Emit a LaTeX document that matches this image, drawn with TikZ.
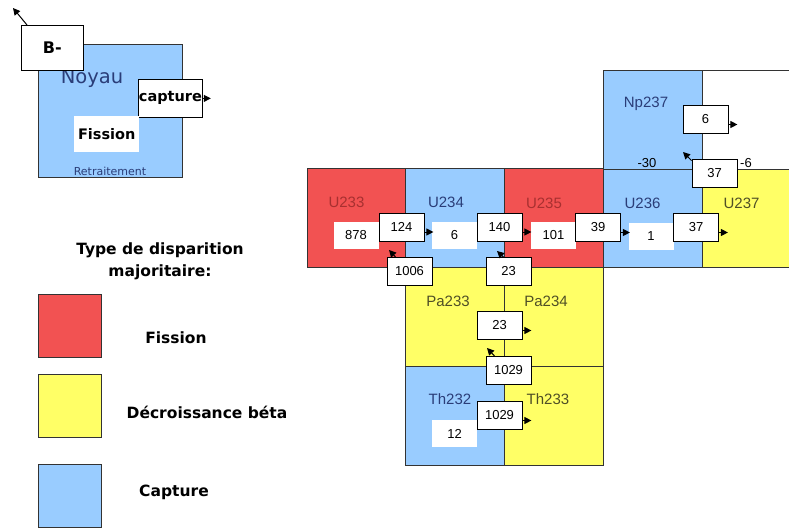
\documentclass[tikz,border=0pt]{standalone}
\usepackage{fontspec}
\setmainfont{Liberation Sans}
\newfontfamily\legfont{DejaVu Sans}
\usetikzlibrary{arrows.meta}
\definecolor{cred}{HTML}{F25252}
\definecolor{cyel}{HTML}{FFFF66}
\definecolor{cblue}{HTML}{99CCFF}
\definecolor{tred}{HTML}{A83030}
\definecolor{tblue}{HTML}{2A3D78}
\definecolor{tolive}{HTML}{4F4F26}
\definecolor{gline}{HTML}{333333}
\begin{document}
\begin{tikzpicture}[x=1pt,y=-1pt,
  cell/.style={draw=gline,line width=1.2pt,minimum width=99pt,minimum height=99pt,inner sep=0pt,anchor=north west},
  lab/.style={font=\fontsize{15}{15}\selectfont},
  val/.style={fill=white,minimum width=45pt,minimum height=27pt,inner sep=0pt,font=\fontsize{13}{13}\selectfont},
  bval/.style={val,draw=black,line width=0.8pt,minimum height=28pt},
  arr/.style={line width=1pt,-{Triangle[length=7pt,width=7pt]}},
  leg/.style={draw=gline,line width=1pt,minimum width=63pt,minimum height=63pt,inner sep=0pt,anchor=north west},
  legtxt/.style={font=\legfont\bfseries\fontsize{15.5}{22}\selectfont},
  keytxt/.style={font=\legfont\bfseries\fontsize{14.5}{14.5}\selectfont}]
\useasboundingbox (0,0) rectangle (789,527);
% ---- grid cells
\node[cell,fill=cred]  (u233) at (307,168) {};
\node[cell,fill=cblue] (u234) at (405,168) {};
\node[cell,fill=cred]  (u235) at (504,168) {};
\node[cell,fill=cblue] (u236) at (603,168) {};
\node[cell,fill=cyel]  (u237) at (702,168) {};
\node[cell,fill=cblue] (np237) at (603,70) {};
\node[cell,fill=white] (blank) at (702,70) {};
\node[cell,fill=cyel]  (pa233) at (405,267) {};
\node[cell,fill=cyel]  (pa234) at (504,267) {};
\node[cell,fill=cblue] (th232) at (405,366) {};
\node[cell,fill=cyel]  (th233) at (504,366) {};
% ---- cell labels
\node[lab,text=tred]   (lu233) at (346.5,202) {U233};
\node[lab,text=tblue]  (lu234) at (446,202) {U234};
\node[lab,text=tred]   (lu235) at (544,203) {U235};
\node[lab,text=tblue]  (lu236) at (642.5,203) {U236};
\node[lab,text=tolive] (lu237) at (741.5,203) {U237};
\node[lab,text=tblue]  (lnp)   at (646,104) {Np237};
\node[lab,text=tolive] (lpa3)  at (448,301) {Pa233};
\node[lab,text=tolive] (lpa4)  at (546,301) {Pa234};
\node[lab,text=tblue]  (lth2)  at (450,399) {Th232};
\node[lab,text=tolive] (lth3)  at (548,399) {Th233};
% ---- plain values
\node[val] (v878) at (356,235.5) {878};
\node[val] (v6)   at (454.5,235.5) {6};
\node[val] (v101) at (553.5,235.5) {101};
\node[val] (v1)   at (651,236.5) {1};
\node[val] (v12)  at (454.5,433.5) {12};
% ---- bordered values
\node[bval] (b124)  at (401.5,227) {124};
\node[bval] (b140)  at (499.5,227) {140};
\node[bval] (b39)   at (598,227.5) {39};
\node[bval] (b37a)  at (696,227.5) {37};
\node[bval] (b37b)  at (714.5,173) {37};
\node[bval] (b6)    at (705.5,119.5) {6};
\node[bval] (b1006) at (409.5,271.5) {1006};
\node[bval] (b23a)  at (508.5,271.5) {23};
\node[bval] (b23b)  at (499.5,325.5) {23};
\node[bval] (b1029a) at (508.5,370.5) {1029};
\node[bval] (b1029b) at (499.5,415.5) {1029};
\node[font=\fontsize{13}{13}\selectfont] (m30) at (647,163) {-30};
\node[font=\fontsize{13}{13}\selectfont] (m6)  at (746,163) {-6};
% ---- arrows to the right
\foreach \b in {b124,b140,b39,b37a,b6,b23b,b1029b}{
  \draw[arr] ([yshift=-5pt]\b.east) -- ++(9,0);
}
% ---- arrows up-left
\coordinate (t1006) at (389,250);
\coordinate (t23a) at (497,251);
\coordinate (t1029a) at (487,348);
\coordinate (t37b) at (683,152);
\draw[arr] ([xshift=9pt]b1006.north west) -- (t1006);
\draw[arr] ([xshift=18pt]b23a.north west) -- (t23a);
\draw[arr] ([xshift=9pt]b1029a.north west) -- (t1029a);
\draw[arr] ([xshift=0pt,yshift=-2pt]b37b.north west) -- (t37b);
% ---- top-left key
\node[draw=gline,line width=1pt,fill=cblue,minimum width=144pt,minimum height=133pt,anchor=north west,inner sep=0pt] (noyaubox) at (38,44) {};
\node[text=tblue,font=\legfont\fontsize{19.5}{19.5}\selectfont] (noyau) at (92,78) {Noyau};
\node[draw=black,line width=0.8pt,fill=white,minimum width=62pt,minimum height=45pt,inner sep=0pt,anchor=north west,font=\legfont\bfseries\fontsize{16}{16}\selectfont] (bm) at (21,25) {B-};
\node[draw=black,line width=0.8pt,fill=white,minimum width=64pt,minimum height=38pt,inner sep=0pt,anchor=north west,keytxt] (capt) at (138,79) {capture};
\node[fill=white,minimum width=65pt,minimum height=36pt,inner sep=0pt,anchor=north west,keytxt] (fis) at (74,116) {Fission};
\node[text=tblue,font=\legfont\fontsize{11}{11}\selectfont] (retr) at (110,171) {Retraitement};
\coordinate (tbm) at (13,8);
\draw[arr] ([xshift=6pt]bm.north west) -- (tbm);
\draw[arr] (capt.east) -- ++(8,0);
% ---- legend
\node[legtxt,align=center] (legtitle) at (160,261) {Type de disparition\\majoritaire:};
\node[leg,fill=cred]  (lr) at (38,294) {};
\node[leg,fill=cyel]  (ly) at (38,374) {};
\node[leg,fill=cblue] (lb) at (38,464) {};
\node[legtxt] (tf) at (176,338) {Fission};
\node[legtxt] (td) at (207,412) {Décroissance béta};
\node[legtxt] (tc) at (174,492) {Capture};
\end{tikzpicture}
\end{document}
